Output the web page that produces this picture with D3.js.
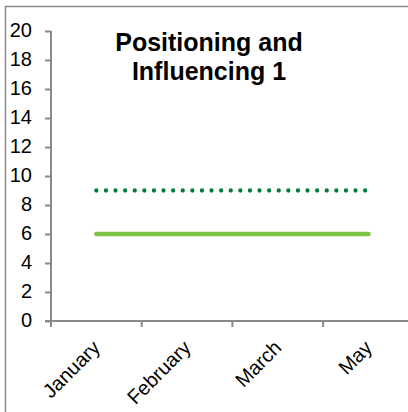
<!DOCTYPE html>
<html>
<head>
<meta charset="utf-8">
<script src="https://cdn.jsdelivr.net/npm/d3@7"></script>
<style>
  html, body { margin: 0; padding: 0; background: #fff; }
  svg { display: block; font-family: "Liberation Sans", Arial, sans-serif; }
</style>
</head>
<body>
<script>
// Chart data
const months = ["January", "February", "March", "May"];
const actual = [6, 6, 6, 6];      // solid light-green series
const target = [9, 9, 9, 9];      // dotted dark-green series
const yTicks = [0, 2, 4, 6, 8, 10, 12, 14, 16, 18, 20];
const titleLines = ["Positioning and", "Influencing 1"];

const W = 408, H = 412;
const svg = d3.select("body").append("svg").attr("width", W).attr("height", H);

// Chart area frame (runs past the right and bottom edges)
svg.append("rect")
  .attr("x", 5.5).attr("y", 6.5)
  .attr("width", 500).attr("height", 500)
  .attr("fill", "none").attr("stroke", "#8a8a8a").attr("stroke-width", 1.5);

const plot = { left: 51, top: 31, bottom: 321, bandW: 90.7 };

const x = d3.scaleBand()
  .domain(months)
  .range([plot.left, plot.left + plot.bandW * months.length])
  .paddingInner(0).paddingOuter(0);

const y = d3.scaleLinear().domain([0, 20]).range([plot.bottom, plot.top]);

const axisColor = "#898989";

// Y axis
const yAxis = svg.append("g")
  .attr("transform", `translate(${plot.left},0)`)
  .call(d3.axisLeft(y).tickValues(yTicks).tickSize(6).tickPadding(13).tickFormat(d3.format("d")));
yAxis.select(".domain").attr("stroke", axisColor).attr("stroke-width", 2)
  .attr("d", `M0,${plot.top}V${plot.bottom + 6}`);
yAxis.selectAll(".tick line").attr("stroke", axisColor).attr("stroke-width", 2);
yAxis.selectAll(".tick text")
  .attr("font-size", 20).attr("fill", "#000").attr("dy", "0.25em");

// X axis: ticks sit on the category boundaries
const boundaries = months.map(m => x(m)).concat([x(months[months.length - 1]) + x.bandwidth()]);
const xg = svg.append("g");
xg.append("line")
  .attr("x1", plot.left - 6).attr("x2", boundaries[boundaries.length - 1])
  .attr("y1", y(0)).attr("y2", y(0))
  .attr("stroke", axisColor).attr("stroke-width", 2);
xg.selectAll("line.tk").data(boundaries).join("line")
  .attr("class", "tk")
  .attr("x1", d => d).attr("x2", d => d)
  .attr("y1", y(0)).attr("y2", y(0) + 6)
  .attr("stroke", axisColor).attr("stroke-width", 2);

// Rotated month labels
xg.selectAll("text").data(months).join("text")
  .attr("transform", d => `translate(${x(d) + x.bandwidth() / 2},${y(0) + 23}) rotate(-45)`)
  .attr("text-anchor", "end")
  .attr("dy", "0.35em")
  .attr("font-size", 20)
  .attr("fill", "#000")
  .text(d => d);

const cx = d => x(d) + x.bandwidth() / 2;
const line = d3.line().x(d => cx(d.m)).y(d => y(d.v));

// Dotted target series
svg.append("path")
  .datum(months.map((m, i) => ({ m, v: target[i] })))
  .attr("d", line)
  .attr("fill", "none")
  .attr("stroke", "#007a3a")
  .attr("stroke-width", 4.3)
  .attr("stroke-linecap", "round")
  .attr("stroke-dasharray", "0 9.6");

// Solid actual series
svg.append("path")
  .datum(months.map((m, i) => ({ m, v: actual[i] })))
  .attr("d", line)
  .attr("fill", "none")
  .attr("stroke", "#7dc242")
  .attr("stroke-width", 4.5)
  .attr("stroke-linecap", "round");

// Title
const title = svg.append("text")
  .attr("text-anchor", "middle")
  .attr("font-size", 25)
  .attr("font-weight", "bold")
  .attr("fill", "#000");
title.selectAll("tspan").data(titleLines).join("tspan")
  .attr("x", 209)
  .attr("y", (d, i) => 51 + i * 28.5)
  .text(d => d);
</script>
</body>
</html>
